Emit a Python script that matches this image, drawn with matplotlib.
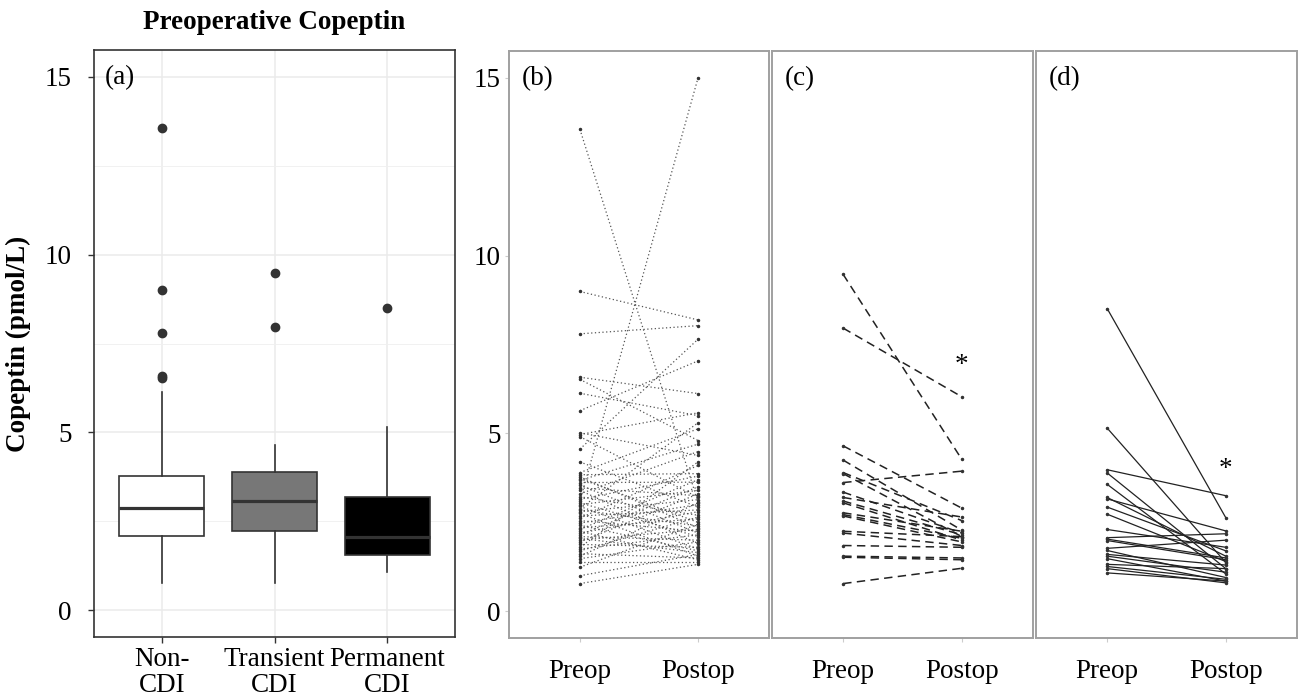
import matplotlib
matplotlib.use("Agg")
import matplotlib.pyplot as plt
from matplotlib.ticker import MultipleLocator

plt.rcParams['font.family'] = ['Liberation Serif', 'DejaVu Serif']

# ---------------- data ----------------
groups = ["Non-\nCDI", "Transient\nCDI", "Permanent\nCDI"]
time_labels = ["Preop", "Postop"]
panel_tags = ["(a)", "(b)", "(c)", "(d)"]

noncdi_pre = [13.55, 8.99, 7.80, 6.58, 6.52, 6.13, 5.64, 5.02, 4.97, 4.91, 4.56, 4.20,
              3.90, 3.84, 3.78, 3.73, 3.68, 3.62, 3.55, 3.47, 3.40, 3.30, 3.22, 3.15,
              3.10, 3.05, 3.00, 2.95, 2.89, 2.85, 2.80, 2.75, 2.68, 2.62, 2.55, 2.48,
              2.42, 2.35, 2.30, 2.25, 2.20, 2.15, 2.10, 2.05, 2.00, 1.95, 1.88, 1.80,
              1.75, 1.70, 1.62, 1.55, 1.48, 1.40, 1.24, 1.00, 0.78]
noncdi_post = [3.07, 8.19, 8.03, 6.12, 4.80, 5.50, 7.04, 4.38, 5.58, 3.20, 7.65, 2.93,
               5.13, 3.87, 2.35, 2.50, 4.70, 3.63, 2.20, 3.25, 1.90, 4.49, 2.70, 3.80,
               15.0, 2.10, 3.40, 1.75, 5.30, 2.40, 3.14, 1.55, 2.85, 4.10, 2.25, 3.00,
               1.70, 2.60, 3.70, 1.45, 2.80, 3.50, 2.00, 1.65, 2.30, 3.30, 1.80, 4.20,
               2.15, 2.65, 1.50, 3.05, 1.95, 1.40, 2.45, 1.60, 1.32]

transient_pre = [9.47, 7.96, 4.65, 4.25, 3.90, 3.87, 3.62, 3.35, 3.20, 3.10, 3.05,
                 2.77, 2.72, 2.68, 2.25, 2.20, 1.85, 1.55, 1.52, 0.78]
transient_post = [4.27, 6.03, 2.90, 2.28, 2.55, 2.10, 3.94, 2.20, 2.65, 2.15, 2.00,
                  2.25, 2.05, 1.95, 2.10, 1.85, 1.80, 1.50, 1.45, 1.21]

permanent_pre = [8.51, 5.15, 3.98, 3.89, 3.57, 3.20, 3.16, 2.93, 2.73, 2.30, 2.07,
                 2.03, 1.99, 1.77, 1.71, 1.60, 1.55, 1.48, 1.32, 1.26, 1.20, 1.08]
permanent_post = [2.63, 1.37, 3.25, 1.20, 1.05, 1.55, 2.26, 1.70, 1.40, 1.80, 2.18,
                  1.50, 1.45, 2.00, 0.95, 1.30, 1.10, 0.85, 1.20, 0.90, 0.80, 0.85]

box_fills = ["#FFFFFF", "#777777", "#000000"]
star_y = [None, 6.9, 4.0]

# ---------------- figure ----------------
W, H = 1303, 699
fig = plt.figure(figsize=(W / 100, H / 100), dpi=100)

def frac(l, t, r, b):
    return [l / W, 1 - b / H, (r - l) / W, (b - t) / H]

FS = 19.5
ylim = (-0.75, 15.75)

# Panel (a)
axa = fig.add_axes(frac(94, 50, 455, 637))
bp = axa.boxplot([noncdi_pre, transient_pre, permanent_pre], positions=[1, 2, 3],
                 widths=0.75, patch_artist=True, showcaps=False, whis=1.5,
                 medianprops=dict(color="#333333", linewidth=2.3),
                 boxprops=dict(edgecolor="#333333", linewidth=1.2),
                 whiskerprops=dict(color="#333333", linewidth=1.2),
                 flierprops=dict(marker="o", markerfacecolor="#333333",
                                 markeredgecolor="#333333", markersize=6))
for patch, c in zip(bp["boxes"], box_fills):
    patch.set_facecolor(c)
axa.set_xlim(0.4, 3.6)
axa.set_ylim(*ylim)
axa.yaxis.set_major_locator(MultipleLocator(5))
axa.yaxis.set_minor_locator(MultipleLocator(2.5))
axa.set_xticks([1, 2, 3])
axa.set_xticklabels(groups, fontsize=FS, linespacing=1.08)
axa.tick_params(axis="y", labelsize=FS, length=4, width=1.0, color="#333333", pad=12)
axa.tick_params(axis="x", length=4, width=1.0, color="#333333", pad=3)
axa.tick_params(axis="y", which="minor", length=0)
axa.grid(True, which="major", color="#EBEBEB", linewidth=1.1, zorder=0)
axa.grid(True, which="minor", axis="y", color="#EFEFEF", linewidth=0.6, zorder=0)
axa.set_axisbelow(True)
for s in axa.spines.values():
    s.set_color("#333333")
    s.set_linewidth(1.2)
axa.set_ylabel("Copeptin (pmol/L)", fontsize=FS, fontweight="bold", labelpad=10)
axa.set_title("Preoperative Copeptin", fontsize=19.5, fontweight="bold", pad=15)
axa.text(0.03, 0.975, panel_tags[0], transform=axa.transAxes, fontsize=FS,
         ha="left", va="top")

# Panels (b), (c), (d)
pairs = [(noncdi_pre, noncdi_post), (transient_pre, transient_post),
         (permanent_pre, permanent_post)]
styles = [dict(linestyle=(0, (1, 2.0)), linewidth=0.9, color="#555555"),
          dict(linestyle=(0, (5.5, 3.5)), linewidth=1.1, color="#222222"),
          dict(linestyle="-", linewidth=0.9, color="#222222")]
boxes = [(509, 51, 769, 638), (772, 51, 1033, 638), (1036, 51, 1297, 638)]

for i, (bx, (pre, post), st) in enumerate(zip(boxes, pairs, styles)):
    ax = fig.add_axes(frac(*bx))
    for p0, p1 in zip(pre, post):
        ax.plot([1, 2], [p0, p1], **st)
        ax.plot([1, 2], [p0, p1], linestyle="none", marker="o", markersize=1.5,
                color="#333333")
    ax.set_xlim(0.4, 2.6)
    ax.set_ylim(*ylim)
    ax.yaxis.set_major_locator(MultipleLocator(5))
    ax.set_xticks([1, 2])
    ax.set_xticklabels(time_labels, fontsize=FS)
    ax.tick_params(axis="x", length=3, color="#CCCCCC", pad=12)
    if i == 0:
        ax.tick_params(axis="y", labelsize=FS, length=3, color="#CCCCCC", pad=3)
    else:
        ax.tick_params(axis="y", labelleft=False, length=0)
    for s in ax.spines.values():
        s.set_color("#A0A0A0")
        s.set_linewidth(1.4)
    ax.text(0.05, 0.975, panel_tags[i + 1], transform=ax.transAxes, fontsize=FS,
            ha="left", va="top")
    if star_y[i] is not None:
        ax.text(2, star_y[i], "*", fontsize=FS, ha="center", va="center")

fig.savefig("out.png", dpi=100)
